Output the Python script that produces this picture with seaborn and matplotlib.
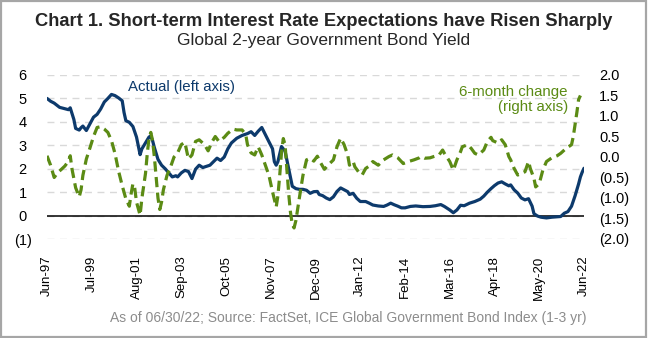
import numpy as np
import pandas as pd
import matplotlib
matplotlib.use("Agg")
import matplotlib.pyplot as plt
import matplotlib.dates as mdates
from matplotlib.ticker import FuncFormatter, FixedLocator
from matplotlib.patches import Rectangle
import seaborn as sns

# ---------------- data ----------------
title = "Chart 1. Short-term Interest Rate Expectations have Risen Sharply"
subtitle = "Global 2-year Government Bond Yield"
footnote = "As of 06/30/22; Source: FactSet, ICE Global Government Bond Index (1-3 yr)"
actual_label = "Actual (left axis)"
change_label = "6-month change\n(right axis)"

start_month = "1997-06-01"

# months since Jun-1997, and Global 2-year yield (%)
actual_month = [0, 2, 4, 7, 10, 12, 13, 15, 16, 18, 19, 20, 22, 24, 26, 28, 30, 32, 34, 36,
                38, 40, 42, 43, 44, 46, 48, 50, 52, 53, 55, 57, 58, 59, 60, 62, 64, 66, 68, 70,
                72, 73, 75, 77, 79, 81, 83, 85, 87, 89, 91, 93, 95, 97, 99, 101, 103, 106, 109, 112,
                114, 116, 118, 120, 122, 124, 126, 127, 128, 129, 131, 133, 135, 137, 139, 141, 143, 145, 147, 149,
                151, 152, 154, 156, 158, 160, 162, 164, 166, 168, 169, 171, 173, 175, 178, 180, 182, 185, 188, 190,
                192, 194, 196, 198, 200, 203, 206, 210, 214, 217, 220, 222, 225, 227, 229, 231, 233, 236, 239, 242,
                244, 246, 248, 250, 252, 254, 256, 258, 259, 261, 263, 265, 267, 269, 271, 272, 274, 276, 279, 282,
                285, 287, 289, 291, 293, 295, 297, 298, 299, 300]
actual_yield = [5.0, 4.88, 4.8, 4.62, 4.56, 4.52, 4.6, 4.1, 3.72, 3.65, 3.75, 3.82, 3.63, 3.92, 4.2, 4.32, 4.55, 4.85, 5.0, 5.17,
                5.12, 5.02, 4.9, 4.4, 4.05, 3.98, 3.8, 3.35, 2.6, 2.85, 3.1, 3.35, 3.4, 3.2, 2.9, 2.4, 2.15, 2.0, 1.82, 1.65,
                1.7, 1.65, 1.82, 1.93, 1.88, 1.58, 1.98, 2.15, 2.05, 2.1, 2.15, 2.3, 2.45, 2.35, 2.5, 2.85, 3.1, 3.3, 3.42, 3.5,
                3.58, 3.42, 3.6, 3.76, 3.45, 3.15, 2.85, 2.3, 2.15, 2.3, 2.95, 2.75, 2.0, 1.25, 1.15, 1.12, 1.12, 1.08, 0.95, 1.02,
                1.03, 0.9, 0.85, 0.75, 0.68, 0.8, 1.03, 1.18, 1.1, 1.02, 0.9, 0.95, 0.74, 0.6, 0.6, 0.53, 0.45, 0.41, 0.39, 0.45,
                0.53, 0.46, 0.4, 0.33, 0.33, 0.39, 0.41, 0.38, 0.39, 0.42, 0.47, 0.39, 0.24, 0.12, 0.24, 0.44, 0.42, 0.53, 0.6, 0.7,
                0.83, 1.0, 1.15, 1.28, 1.39, 1.44, 1.35, 1.27, 1.31, 1.1, 0.96, 0.75, 0.67, 0.72, 0.4, 0.08, -0.02, -0.07, -0.1, -0.07,
                -0.05, -0.04, 0.1, 0.17, 0.4, 0.85, 1.35, 1.65, 1.85, 2.02]

# months since Jun-1997, and 6-month change (right axis)
change_month = [0, 2, 4, 6, 8, 10, 12, 13, 14, 16, 18, 19, 20, 22, 24, 26, 28, 30, 32, 34,
                36, 38, 40, 42, 44, 46, 47, 48, 49, 50, 52, 53, 55, 56, 57, 58, 59, 60, 61, 62,
                63, 64, 65, 67, 69, 71, 73, 75, 77, 79, 81, 83, 85, 88, 90, 92, 94, 96, 99, 101,
                104, 106, 109, 111, 112, 114, 116, 118, 120, 122, 124, 126, 128, 129, 130, 131, 132, 133, 134, 135,
                136, 137, 138, 139, 141, 143, 145, 147, 149, 151, 153, 155, 157, 160, 162, 164, 166, 168, 169, 171,
                172, 174, 176, 178, 180, 182, 185, 188, 191, 193, 196, 199, 202, 205, 208, 209, 211, 214, 216, 219,
                221, 222, 225, 227, 229, 231, 232, 235, 237, 239, 241, 244, 246, 248, 249, 252, 254, 256, 258, 259,
                261, 263, 265, 267, 269, 270, 272, 273, 275, 277, 279, 282, 285, 287, 290, 293, 294, 295, 296, 297,
                298]
change_6m = [0.03, -0.2, -0.5, -0.38, -0.3, -0.22, -0.1, 0.03, -0.3, -0.75, -0.97, -0.8, -0.45, -0.05, 0.22, 0.5, 0.72, 0.74, 0.68, 0.6,
             0.4, 0.08, -0.35, -0.7, -1.02, -1.2, -0.9, -0.65, -0.75, -1.1, -1.42, -1.0, -0.4, 0.1, 0.45, 0.6, 0.4, 0.0, -0.5, -1.0,
             -1.28, -1.1, -0.8, -0.45, -0.25, 0.0, 0.1, 0.3, 0.36, -0.05, 0.05, 0.38, 0.42, 0.3, 0.15, 0.36, 0.5, 0.38, 0.48, 0.58,
             0.68, 0.66, 0.66, 0.55, 0.3, 0.1, 0.05, 0.25, 0.05, -0.2, -0.45, -0.85, -1.22, -0.95, -0.45, 0.1, 0.45, 0.3, -0.3, -0.9,
             -1.35, -1.65, -1.73, -1.55, -1.0, -0.45, -0.07, -0.03, -0.1, 0.02, -0.15, -0.3, -0.2, -0.07, 0.25, 0.46, 0.3, 0.05, -0.2, -0.11,
             -0.24, -0.36, -0.44, -0.28, -0.22, -0.11, -0.2, -0.07, 0.01, 0.05, -0.02, -0.16, -0.11, -0.07, -0.02, 0.01, -0.03, -0.02, 0.01, 0.05,
             0.17, 0.09, -0.11, -0.32, -0.07, 0.13, 0.25, 0.3, 0.21, 0.09, 0.05, 0.17, 0.38, 0.48, 0.4, 0.34, 0.42, 0.3, 0.01, -0.07,
             -0.28, -0.44, -0.4, -0.36, -0.11, -0.28, -0.52, -0.73, -0.65, -0.32, -0.11, -0.02, 0.03, 0.09, 0.21, 0.3, 0.5, 0.8, 1.1, 1.4,
             1.5]

tick_labels = ["Jun-97", "Jul-99", "Aug-01", "Sep-03", "Oct-05", "Nov-07", "Dec-09",
               "Jan-12", "Feb-14", "Mar-16", "Apr-18", "May-20", "Jun-22"]
tick_month = [0, 25, 50, 75, 100, 125, 150, 175, 200, 225, 250, 275, 300]
left_ticks = [-1, 0, 1, 2, 3, 4, 5, 6]
right_ticks = [-2.0, -1.5, -1.0, -0.5, 0.0, 0.5, 1.0, 1.5, 2.0]

assert len(actual_month) == len(actual_yield)
assert len(change_month) == len(change_6m)

# ---------------- helpers ----------------
t0 = pd.Timestamp(start_month)
def to_dates(months):
    return [t0 + pd.DateOffset(months=int(m)) for m in months]

df_actual = pd.DataFrame({"date": to_dates(actual_month), "value": actual_yield})
df_change = pd.DataFrame({"date": to_dates(change_month), "value": change_6m})
tick_dates = to_dates(tick_month)

NAVY = "#0d3a6c"
GREEN = "#5b8b14"

sns.set_theme(style="white")
plt.rcParams["font.family"] = ["Liberation Sans", "DejaVu Sans"]

fig = plt.figure(figsize=(6.48, 3.38), dpi=100)
ax = fig.add_axes([47 / 648, 1 - 239 / 338, (584 - 47) / 648, (239 - 75) / 338])
ax2 = ax.twinx()

sns.lineplot(data=df_actual, x="date", y="value", ax=ax, color=NAVY, linewidth=2.3)
sns.lineplot(data=df_change, x="date", y="value", ax=ax2, color=GREEN, linewidth=2.3,
             linestyle=(0, (3.2, 1.7)))

ax.set_ylim(-1, 6)
ax2.set_ylim(-2, 2)
ax.set_xlim(tick_dates[0], tick_dates[-1])

ax.axhline(0, color="black", linewidth=1.1, zorder=1)

ax.yaxis.set_major_locator(FixedLocator(left_ticks))
ax2.yaxis.set_major_locator(FixedLocator(right_ticks))
ax.yaxis.set_major_formatter(FuncFormatter(lambda v, p: f"({abs(v):.0f})" if v < 0 else f"{v:.0f} "))
ax2.yaxis.set_major_formatter(FuncFormatter(lambda v, p: f"({abs(v):.1f})" if v < -1e-9 else f"{abs(v):.1f}"))

ax.set_xticks(tick_dates)
ax.set_xticklabels(tick_labels, rotation=90)

ax.grid(False)
ax2.grid(False)
ax.yaxis.grid(True, color="#d9d9d9", linestyle=(0, (5, 4)), linewidth=1.0)

for a in (ax, ax2):
    for s in a.spines.values():
        s.set_visible(False)
    a.set_xlabel("")
    a.set_ylabel("")

ax.tick_params(axis="y", length=0, labelsize=10.5, pad=11, colors="black")
ax2.tick_params(axis="y", length=0, labelsize=10.5, pad=11, colors="black")
ax.tick_params(axis="x", length=0, labelsize=9.5, pad=12, colors="black")

ax.text(0.25, 0.925, actual_label, transform=ax.transAxes, color=NAVY, fontsize=10.8,
        ha="center", va="center")
ax.text(0.97, 0.85, change_label, transform=ax.transAxes, color=GREEN, fontsize=10.8,
        ha="right", va="center", multialignment="right", linespacing=1.1)

fig.text(0.5, 1 - 21 / 338, title, ha="center", va="center", fontsize=13.2, fontweight="bold")
fig.text(0.5, 1 - 41 / 338, subtitle, ha="center", va="center", fontsize=12.5)
fig.text(348 / 648, 1 - 318 / 338, footnote, ha="center", va="center", fontsize=10, color="#8c8c8c")

fig.patches.append(Rectangle((0.002, 0.003), 0.995, 0.994, transform=fig.transFigure,
                             fill=False, edgecolor="#a6a6a6", linewidth=1.6))

fig.savefig("out.png", dpi=100, facecolor="white")
